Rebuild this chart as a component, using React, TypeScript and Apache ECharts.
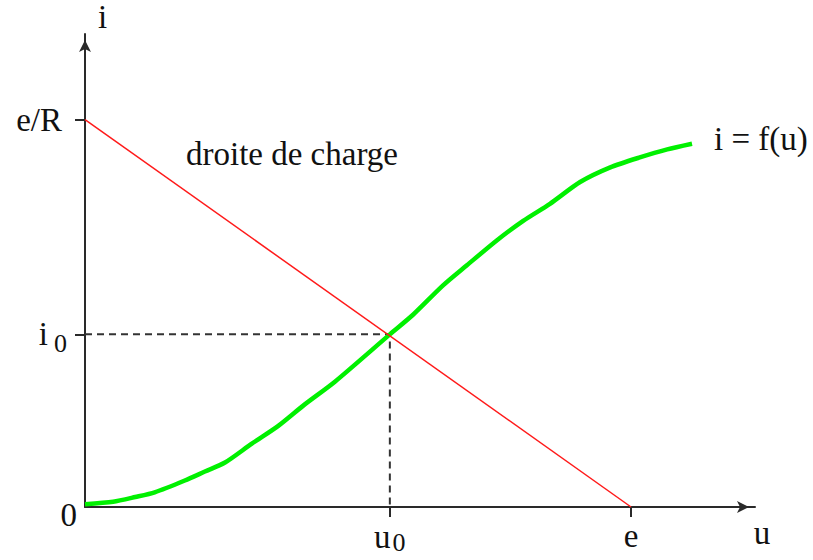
import React, { useEffect, useRef } from "react";
import * as echarts from "echarts";

// Characteristic i = f(u) (green)
const uCurve = [0.0, 0.42, 0.75, 1.04, 1.49, 1.79, 2.09, 2.49, 2.88, 3.28, 3.73, 4.55, 4.9, 5.34, 5.7, 6.15, 6.54, 6.94, 7.39, 7.84, 8.28, 8.69, 9.06];
const iCurve = [0.06, 0.11, 0.21, 0.31, 0.56, 0.75, 0.94, 1.34, 1.71, 2.17, 2.65, 3.65, 4.07, 4.68, 5.11, 5.64, 6.05, 6.41, 6.87, 7.18, 7.39, 7.56, 7.68];

// Key points
const eVal = 8.15; // e on u axis
const eOverR = 8.19; // e/R on i axis
const u0 = 4.55;
const i0 = 3.65;

const xTickValues = [u0, eVal];
const xTickLabels = ["{m|u}{s|0}", "{m|e}"];
const yTickValues = [i0, eOverR];
const yLabelValues = [0, i0, eOverR];
const yTickLabels = ["{z|0}", "{m|i}{s|0}", "{r|e/R}"];

const FONT = "'Liberation Serif', 'Times New Roman', serif";
const FS = 33;
const SUB = 26;

function pick(values: number[], labels: string[], v: number) {
  for (let k = 0; k < values.length; k++) {
    if (Math.abs(values[k] - v) < 1e-6) return labels[k];
  }
  return "";
}

export default function App() {
  const ref = useRef<HTMLDivElement>(null);
  useEffect(() => {
    document.body.style.margin = "0";
    const chart = echarts.init(ref.current!, null, { renderer: "svg" });
    const axisLine = {
      show: true,
      symbol: ["none", "arrow"],
      symbolSize: [9, 12],
      symbolOffset: [0, -6],
      lineStyle: { color: "#2a2a2a", width: 2 },
    };
    chart.setOption({
      animation: false,
      backgroundColor: "#ffffff",
      grid: { left: 85, right: 58, top: 28, bottom: 53, containLabel: false },
      xAxis: {
        type: "value",
        min: 0,
        max: 10,
        name: "u",
        nameLocation: "end",
        nameGap: 7,
        nameTextStyle: {
          fontFamily: FONT,
          fontSize: FS,
          color: "#111",
          align: "center",
          verticalAlign: "top",
          padding: [9, 0, 0, 0],
        },
        axisLine,
        splitLine: { show: false },
        axisTick: {
          show: true,
          customValues: xTickValues,
          length: 10,
          lineStyle: { color: "#2a2a2a", width: 2 },
        },
        axisLabel: {
          show: true,
          customValues: xTickValues,
          margin: 12,
          formatter: (v: number) => pick(xTickValues, xTickLabels, v),
          rich: {
            m: { fontFamily: FONT, fontSize: FS, color: "#111" },
            s: { fontFamily: FONT, fontSize: SUB, color: "#111", padding: [10, 0, 0, 2] },
          },
        },
      },
      yAxis: {
        type: "value",
        min: 0,
        max: 10,
        name: "i",
        nameLocation: "end",
        nameGap: 1,
        nameTextStyle: {
          fontFamily: FONT,
          fontSize: FS,
          color: "#111",
          align: "left",
          padding: [0, 0, 0, 13],
        },
        axisLine,
        splitLine: { show: false },
        axisTick: {
          show: true,
          customValues: yTickValues,
          length: 10,
          lineStyle: { color: "#2a2a2a", width: 2 },
        },
        axisLabel: {
          show: true,
          customValues: yLabelValues,
          margin: 8,
          formatter: (v: number) => pick(yLabelValues, yTickLabels, v),
          rich: {
            z: { fontFamily: FONT, fontSize: FS, color: "#111", padding: [16, 0, 0, 0] },
            m: { fontFamily: FONT, fontSize: FS, color: "#111", padding: [0, 0, 0, 0] },
            s: { fontFamily: FONT, fontSize: SUB, color: "#111", padding: [18, 10, 0, 6] },
            r: { fontFamily: FONT, fontSize: FS, color: "#111", padding: [0, 15, 0, 0] },
          },
        },
      },
      graphic: [
        {
          type: "text",
          left: 186,
          top: 137,
          style: { text: "droite de charge", font: `${FS}px ${FONT}`, fill: "#111" },
        },
        {
          type: "text",
          left: 714,
          top: 122,
          style: { text: "i = f(u)", font: `${FS}px ${FONT}`, fill: "#111" },
        },
      ],
      series: [
        {
          type: "line",
          data: [
            [0, i0],
            [u0, i0],
            [u0, 0],
          ],
          symbol: "none",
          lineStyle: { color: "#333", width: 2, type: [7, 5] },
          z: 1,
        },
        {
          type: "line",
          data: uCurve.map((u, k) => [u, iCurve[k]]),
          smooth: 0.25,
          symbol: "none",
          lineStyle: { color: "#00f000", width: 4.5 },
          z: 2,
        },
        {
          type: "line",
          data: [
            [0, eOverR],
            [eVal, 0],
          ],
          symbol: "none",
          lineStyle: { color: "#ff1a1a", width: 1.5 },
          z: 3,
        },
      ],
    });
    return () => chart.dispose();
  }, []);
  return (
    <div
      ref={ref}
      style={{ position: "absolute", left: 0, top: 0, width: 813, height: 560 }}
    />
  );
}
